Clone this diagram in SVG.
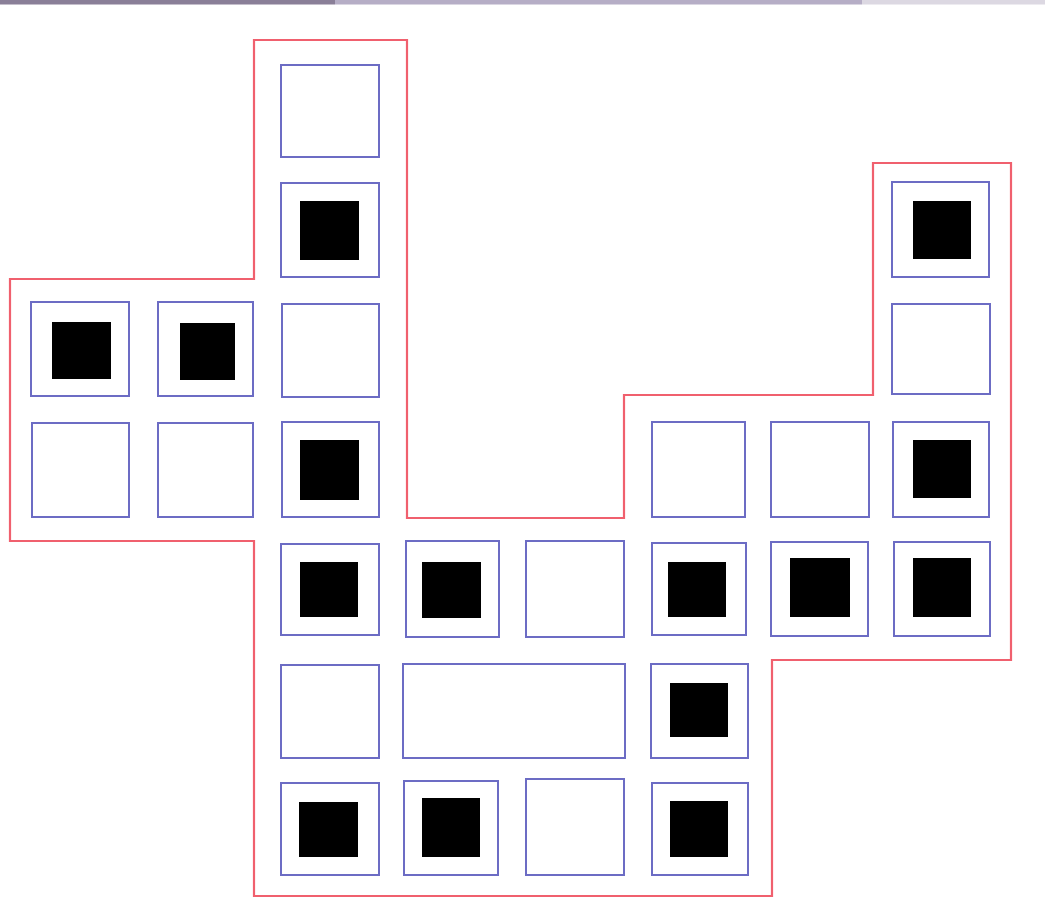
<svg xmlns="http://www.w3.org/2000/svg" width="1045" height="897" viewBox="0 0 1045 897">
<style>
.cell{fill:#ffffff;stroke:#6c6cc4;stroke-width:2}
.dot{fill:#000000}
.outline{fill:none;stroke:#f0606e;stroke-width:2.2}
</style>
<rect x="0" y="0" width="1045" height="897" fill="#ffffff"/>
<g id="topbar">
<rect x="0" y="0" width="335" height="4.5" fill="#8a7f98"/>
<rect x="335" y="0" width="527" height="4.5" fill="#b6aec6"/>
<rect x="862" y="0" width="183" height="4.5" fill="#dcd8e2"/>
</g>
<g id="outline">
<polygon class="outline" points="254,40 407,40 407,518 624,518 624,395 873,395 873,163 1011,163 1011,660 772,660 772,896 254,896 254,541 10,541 10,279 254,279"/>
</g>
<g id="r1c3"><rect class="cell" x="281" y="65" width="98" height="92"/></g>
<g id="r2c3"><rect class="cell" x="281" y="183" width="98" height="94"/><rect class="dot" x="300" y="201" width="59" height="59"/></g>
<g id="r2c8"><rect class="cell" x="892" y="182" width="97" height="95"/><rect class="dot" x="913" y="201" width="58" height="58"/></g>
<g id="r3c1"><rect class="cell" x="31" y="302" width="98" height="94"/><rect class="dot" x="52" y="322" width="59" height="57"/></g>
<g id="r3c2"><rect class="cell" x="158" y="302" width="95" height="94"/><rect class="dot" x="180" y="323" width="55" height="57"/></g>
<g id="r3c3"><rect class="cell" x="282" y="304" width="97" height="93"/></g>
<g id="r3c8"><rect class="cell" x="892" y="304" width="98" height="90"/></g>
<g id="r4c1"><rect class="cell" x="32" y="423" width="97" height="94"/></g>
<g id="r4c2"><rect class="cell" x="158" y="423" width="95" height="94"/></g>
<g id="r4c3"><rect class="cell" x="282" y="422" width="97" height="95"/><rect class="dot" x="300" y="440" width="59" height="60"/></g>
<g id="r4c6"><rect class="cell" x="652" y="422" width="93" height="95"/></g>
<g id="r4c7"><rect class="cell" x="771" y="422" width="98" height="95"/></g>
<g id="r4c8"><rect class="cell" x="893" y="422" width="96" height="95"/><rect class="dot" x="913" y="440" width="58" height="58"/></g>
<g id="r5c3"><rect class="cell" x="281" y="544" width="98" height="91"/><rect class="dot" x="300" y="562" width="58" height="55"/></g>
<g id="r5c4"><rect class="cell" x="406" y="541" width="93" height="96"/><rect class="dot" x="422" y="562" width="59" height="56"/></g>
<g id="r5c5"><rect class="cell" x="526" y="541" width="98" height="96"/></g>
<g id="r5c6"><rect class="cell" x="652" y="543" width="94" height="92"/><rect class="dot" x="668" y="562" width="58" height="55"/></g>
<g id="r5c7"><rect class="cell" x="771" y="542" width="97" height="94"/><rect class="dot" x="790" y="558" width="60" height="59"/></g>
<g id="r5c8"><rect class="cell" x="894" y="542" width="96" height="94"/><rect class="dot" x="913" y="558" width="58" height="59"/></g>
<g id="r6c3"><rect class="cell" x="281" y="665" width="98" height="93"/></g>
<g id="r6c45"><rect class="cell" x="403" y="664" width="222" height="94"/></g>
<g id="r6c6"><rect class="cell" x="651" y="664" width="97" height="94"/><rect class="dot" x="670" y="683" width="58" height="54"/></g>
<g id="r7c3"><rect class="cell" x="281" y="783" width="98" height="92"/><rect class="dot" x="299" y="802" width="59" height="55"/></g>
<g id="r7c4"><rect class="cell" x="404" y="781" width="94" height="94"/><rect class="dot" x="422" y="798" width="58" height="59"/></g>
<g id="r7c5"><rect class="cell" x="526" y="779" width="98" height="96"/></g>
<g id="r7c6"><rect class="cell" x="652" y="783" width="96" height="92"/><rect class="dot" x="670" y="801" width="58" height="56"/></g>
<g id="connectors"></g>
</svg>
